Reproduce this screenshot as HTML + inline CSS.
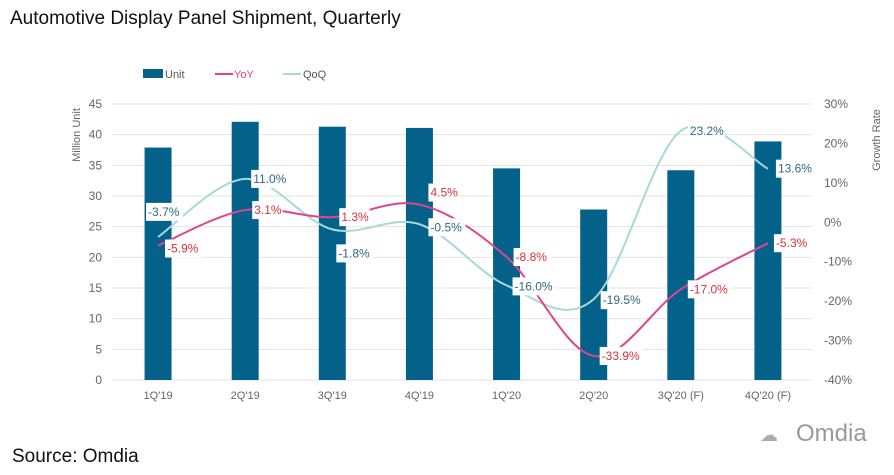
<!DOCTYPE html>
<html><head><meta charset="utf-8"><style>
body{margin:0;background:#fff;width:894px;height:470px;overflow:hidden;font-family:"Liberation Sans",sans-serif}
</style></head><body>
<svg width="894" height="470" xmlns="http://www.w3.org/2000/svg">
<text x="10" y="24" font-size="19" fill="#111">Automotive Display Panel Shipment, Quarterly</text>
<text x="12" y="462" font-size="19" fill="#111">Source: Omdia</text>
<text x="796" y="441" font-size="24" fill="#999">Omdia</text>
<text x="760" y="441" font-size="18" fill="#aaa">☁</text>
<g>
<rect x="143" y="69" width="20" height="9" fill="#04628a"/>
<text x="165" y="78" font-size="11" fill="#555">Unit</text>
<line x1="215" y1="74" x2="233" y2="74" stroke="#e0448a" stroke-width="2"/>
<text x="234" y="78" font-size="11" fill="#e0448a">YoY</text>
<line x1="283" y1="74" x2="301" y2="74" stroke="#a8d8d8" stroke-width="2"/>
<text x="303" y="78" font-size="11" fill="#555">QoQ</text>
</g>
<text transform="translate(80,135) rotate(-90)" text-anchor="middle" font-size="11" fill="#666">Million Unit</text>
<text transform="translate(880,140) rotate(-90)" text-anchor="middle" font-size="11" fill="#666">Growth Rate</text>
<g id="grid"></g><g id="bars"></g><g id="lines"></g><g id="labels"></g><g id="axes"></g>
</svg>
<script>
const categories=["1Q'19","2Q'19","3Q'19","4Q'19","1Q'20","2Q'20","3Q'20 (F)","4Q'20 (F)"];
const units=[37.9,42.1,41.3,41.1,34.5,27.8,34.2,38.9];
const yoy=[-5.9,3.1,1.3,4.5,-8.8,-33.9,-17.0,-5.3];
const qoq=[-3.7,11.0,-1.8,-0.5,-16.0,-19.5,23.2,13.6];
const leftTicks=[0,5,10,15,20,25,30,35,40,45];
const rightTicks=[-40,-30,-20,-10,0,10,20,30];
const yoyLabelOffsets=[[7,3],[7,0],[7,0],[9,-12],[7,0],[6,0],[7,0],[6,0]];
const qoqLabelOffsets=[[-12,-25],[6,0],[4,24],[9,3],[6,1],[7,1],[7,0],[8,0]];
const NS="http://www.w3.org/2000/svg";
const L=114.5,R=811.5,T=104,B=380,step=(R-L)/categories.length;
const xc=i=>L+step*(i+0.5);
const yL=v=>B-(v/45)*(B-T);
const yR=v=>B-((v+40)/70)*(B-T);
function mk(tag,at,parent){const e=document.createElementNS(NS,tag);for(const k in at)e.setAttribute(k,at[k]);document.getElementById(parent).appendChild(e);return e;}
leftTicks.forEach(t=>{
 const g=mk('line',{x1:L-2,x2:R,y1:yL(t),y2:yL(t),stroke:'#e3e3e3','stroke-width':1},'grid');
 
 
 const tx=mk('text',{x:102,y:yL(t)+4,'text-anchor':'end','font-size':12,fill:'#666'},'axes');tx.textContent=t;
 
 
});
rightTicks.forEach(t=>{
 const tx=mk('text',{x:824,y:yR(t)+4,'font-size':12,fill:'#666'},'axes');tx.textContent=t+'%';
 
 
});
categories.forEach((c,i)=>{
 const b=mk('rect',{x:xc(i)-13.5,y:yL(units[i]),width:27,height:B-yL(units[i]),fill:'#04628a'},'bars');
 
 
 const tx=mk('text',{x:xc(i),y:399,'text-anchor':'middle','font-size':11,fill:'#666'},'axes');tx.textContent=c;
 
 
});
function spline(pts){let d=`M${pts[0][0]},${pts[0][1]}`;
 for(let i=0;i<pts.length-1;i++){const p0=pts[Math.max(i-1,0)],p1=pts[i],p2=pts[i+1],p3=pts[Math.min(i+2,pts.length-1)];
  const k=1/6;d+=` C${p1[0]+(p2[0]-p0[0])*k},${p1[1]+(p2[1]-p0[1])*k} ${p2[0]-(p3[0]-p1[0])*k},${p2[1]-(p3[1]-p1[1])*k} ${p2[0]},${p2[1]}`;}
 return d;}
function series(vals,color,name,offs,tcolor){
 const p=mk('path',{d:spline(vals.map((v,i)=>[xc(i),yR(v)])),fill:'none',stroke:color,'stroke-width':2},'lines');
 
 
 vals.forEach((v,i)=>{const x=xc(i)+offs[i][0],y=yR(v)+offs[i][1];const s=v.toFixed(1)+'%';const w=s.length*6.6+4;
  const r=mk('rect',{x:x,y:y-9,width:w,height:18,fill:'#fff'},'labels');
  
  
  const t=mk('text',{x:x+2,y:y+4,'font-size':12,fill:tcolor},'labels');t.textContent=s;
  
  });
}
series(qoq,'#a8d8d8','qoq',qoqLabelOffsets,'#2f6a80');
series(yoy,'#e0448a','yoy',yoyLabelOffsets,'#e0303a');
</script>
</body></html>
